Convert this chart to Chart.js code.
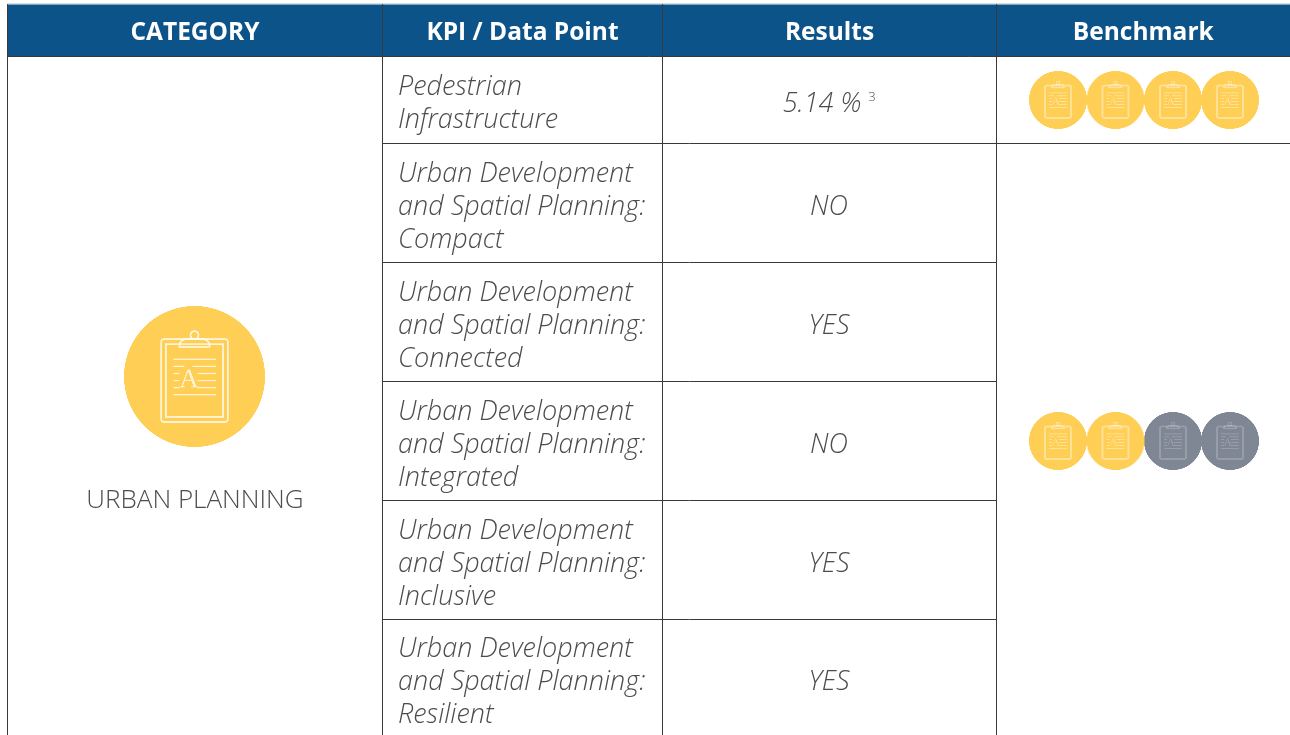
<!DOCTYPE html>
<html>
<head>
<meta charset="utf-8">
<style>html,body{margin:0;padding:0;background:#fff;overflow:hidden}canvas{display:block}</style>
<script src="https://cdn.jsdelivr.net/npm/chart.js@4"></script>
</head>
<body>
<canvas id="c" width="1290" height="735"></canvas>
<script>
// ---- data ----
const headers = ["CATEGORY", "KPI / Data Point", "Results", "Benchmark"];
const categoryName = "URBAN PLANNING";
const kpiLabels = [
  ["Pedestrian", "Infrastructure"],
  ["Urban Development", "and Spatial Planning:", "Compact"],
  ["Urban Development", "and Spatial Planning:", "Connected"],
  ["Urban Development", "and Spatial Planning:", "Integrated"],
  ["Urban Development", "and Spatial Planning:", "Inclusive"],
  ["Urban Development", "and Spatial Planning:", "Resilient"]
];
const results = ["5.14 %", "NO", "YES", "NO", "YES", "YES"];
const resultNotes = ["3", "", "", "", "", ""];
const benchmarkFilled = [4, 2];
const benchmarkTotal = 4;

// ---- layout ----
const colEdges = [7.5, 382.5, 662.5, 996.5, 1290];
const rowEdges = [4.5, 56.5, 143.5, 262.5, 381.5, 500.5, 619.5, 738];
const benchX = [1058, 1115.5, 1173, 1230];
const benchY = [100, 441];
const bigIcon = {x: 194.5, y: 376.5, r: 70.5};
const smallR = 29;
const YELLOW = "#FFCE54", GREY = "#7F8694", LINE = "#3a3a3a", HEAD = "#0B5389", TEXT = "#4c4c4c";
const FONT = '"Open Sans"';

function makeIcon(r, fill, big, alpha) {
  const s = 4, c = document.createElement("canvas");
  c.width = c.height = Math.ceil(2 * r + 2) * s;
  const g = c.getContext("2d");
  g.scale(s, s);
  const m = c.width / s / 2;
  g.translate(m, m);
  g.fillStyle = fill;
  g.beginPath(); g.arc(0, 0, r, 0, Math.PI * 2); g.fill();
  const k = r / 70;
  g.scale(k, k);
  g.strokeStyle = "#fff";
  g.fillStyle = "#fff";
  g.globalAlpha = alpha;
  g.lineJoin = "round";
  const rr = (x, y, w, h, rad) => { g.beginPath(); g.roundRect(x, y, w, h, rad); g.stroke(); };
  if (big) {
    g.lineWidth = 1.8;
    rr(-33, -37, 66, 82, 2.5);
    rr(-28.5, -32, 57, 72, 0);
  } else {
    g.lineWidth = 4.5;
    rr(-31, -35, 62, 78, 3);
  }
  // clip
  g.lineWidth = big ? 1.8 : 3;
  g.beginPath();
  g.moveTo(-15, -29.5); g.lineTo(15, -29.5);
  g.quadraticCurveTo(15, -36, 9, -37); g.lineTo(-9, -37);
  g.quadraticCurveTo(-15, -36, -15, -29.5);
  g.closePath();
  g.stroke();
  g.beginPath(); g.arc(0, -41, 4, 0, Math.PI * 2); g.stroke();
  const ys = [-17, -10, -3, 4, 11, 18];
  g.lineWidth = big ? 1.6 : 2.4;
  g.beginPath();
  ys.forEach((y, i) => {
    if (i === 0 || i === 5) { g.moveTo(-21, y); g.lineTo(21, y); }
    else if (i === 1) { g.moveTo(-21, y); g.lineTo(-10, y); g.moveTo(-2, y); g.lineTo(21, y); }
    else { g.moveTo(-21, y); g.lineTo(-15, y); g.moveTo(3, y); g.lineTo(21, y); }
  });
  g.stroke();
  g.font = '27px "Liberation Serif"';
  g.textAlign = "center"; g.textBaseline = "alphabetic";
  g.fillText("A", -5.5, 11);
  const out = document.createElement("canvas");
  const px = Math.ceil(2 * r + 2);
  out.width = out.height = px;
  out.getContext("2d").drawImage(c, 0, 0, px, px);
  return out;
}

const yellowBig = makeIcon(bigIcon.r, YELLOW, true, 0.75);
const yellowSmall = makeIcon(smallR, YELLOW, false, 0.4);
const greySmall = makeIcon(smallR, GREY, false, 0.2);

// grid segments
const seg = [];
const addSeg = (x1, y1, x2, y2) => seg.push({x: x1, y: y1}, {x: x2, y: y2}, {x: NaN, y: NaN});
colEdges.slice(0, 4).forEach(x => addSeg(x, rowEdges[0], x, 735));
rowEdges.slice(1, 2).forEach(y => addSeg(colEdges[0], y, colEdges[4], y));
rowEdges.slice(2, 7).forEach(y => addSeg(colEdges[1], y, colEdges[3], y));
addSeg(colEdges[3], rowEdges[2], colEdges[4], rowEdges[2]);

const filledPts = [], emptyPts = [];
benchmarkFilled.forEach((n, row) => {
  for (let i = 0; i < benchmarkTotal; i++) {
    (i < n ? filledPts : emptyPts).push({x: benchX[i], y: benchY[row]});
  }
});

const tablePlugin = {
  id: "table",
  beforeDatasetsDraw(chart) {
    const {ctx, scales: {x, y}} = chart;
    ctx.save();
    ctx.fillStyle = "#d9d9d9";
    ctx.fillRect(x.getPixelForValue(colEdges[0]), y.getPixelForValue(3), x.getPixelForValue(1290), 1);
    ctx.fillStyle = HEAD;
    ctx.fillRect(x.getPixelForValue(colEdges[0]), y.getPixelForValue(rowEdges[0]),
      x.getPixelForValue(colEdges[4]) - x.getPixelForValue(colEdges[0]),
      y.getPixelForValue(rowEdges[1]) - y.getPixelForValue(rowEdges[0]));
    ctx.restore();
  },
  afterDatasetsDraw(chart) {
    const {ctx, scales: {x, y}} = chart;
    ctx.save();
    ctx.textBaseline = "middle";
    // headers
    ctx.textAlign = "center";
    ctx.fillStyle = "#ffffff";
    ctx.font = "bold 24.5px " + FONT;
    headers.forEach((h, i) => {
      const cx = (colEdges[i] + colEdges[i + 1]) / 2;
      ctx.fillText(h, x.getPixelForValue(cx), y.getPixelForValue(33));
    });
    // category
    ctx.fillStyle = TEXT;
    ctx.font = "300 26px " + FONT;
    ctx.fillText(categoryName, x.getPixelForValue(195), y.getPixelForValue(501));
    // rows
    kpiLabels.forEach((lines, r) => {
      const cy = (rowEdges[r + 1] + rowEdges[r + 2]) / 2 + 4;
      ctx.textAlign = "left";
      ctx.font = "italic 300 27px " + FONT;
      lines.forEach((t, j) => {
        const ly = cy + (j - (lines.length - 1) / 2) * 33;
        ctx.fillText(t, x.getPixelForValue(398), y.getPixelForValue(ly));
      });
      ctx.textAlign = "center";
      const cx = (colEdges[2] + colEdges[3]) / 2 - 0.5;
      ctx.fillText(results[r], x.getPixelForValue(cx - (resultNotes[r] ? 7 : 0)), y.getPixelForValue(cy));
      if (resultNotes[r]) {
        const w = ctx.measureText(results[r]).width;
        ctx.font = "300 13px " + FONT;
        ctx.textAlign = "left";
        ctx.fillText(resultNotes[r], x.getPixelForValue(cx - 7 + w / 2 + 7), y.getPixelForValue(cy - 6.5));
      }
    });
    ctx.restore();
  }
};

new Chart(document.getElementById("c"), {
  type: "scatter",
  data: {
    datasets: [
      {label: "grid", data: seg, showLine: true, spanGaps: false, borderColor: LINE, borderWidth: 1, pointRadius: 0, order: 3},
      {label: "category", data: [{x: bigIcon.x, y: bigIcon.y}], pointStyle: yellowBig, pointRadius: bigIcon.r, order: 2},
      {label: "filled", data: filledPts, pointStyle: yellowSmall, pointRadius: smallR, order: 2},
      {label: "empty", data: emptyPts, pointStyle: greySmall, pointRadius: smallR, order: 2}
    ]
  },
  plugins: [tablePlugin],
  options: {
    responsive: false,
    animation: false,
    events: [],
    layout: {padding: 0, autoPadding: false},
    plugins: {legend: {display: false}, tooltip: {enabled: false}, title: {display: false}},
    scales: {
      x: {type: "linear", display: false, min: 0, max: 1290, offset: false},
      y: {type: "linear", display: false, min: 0, max: 735, reverse: true}
    }
  }
});
</script>
</body>
</html>
